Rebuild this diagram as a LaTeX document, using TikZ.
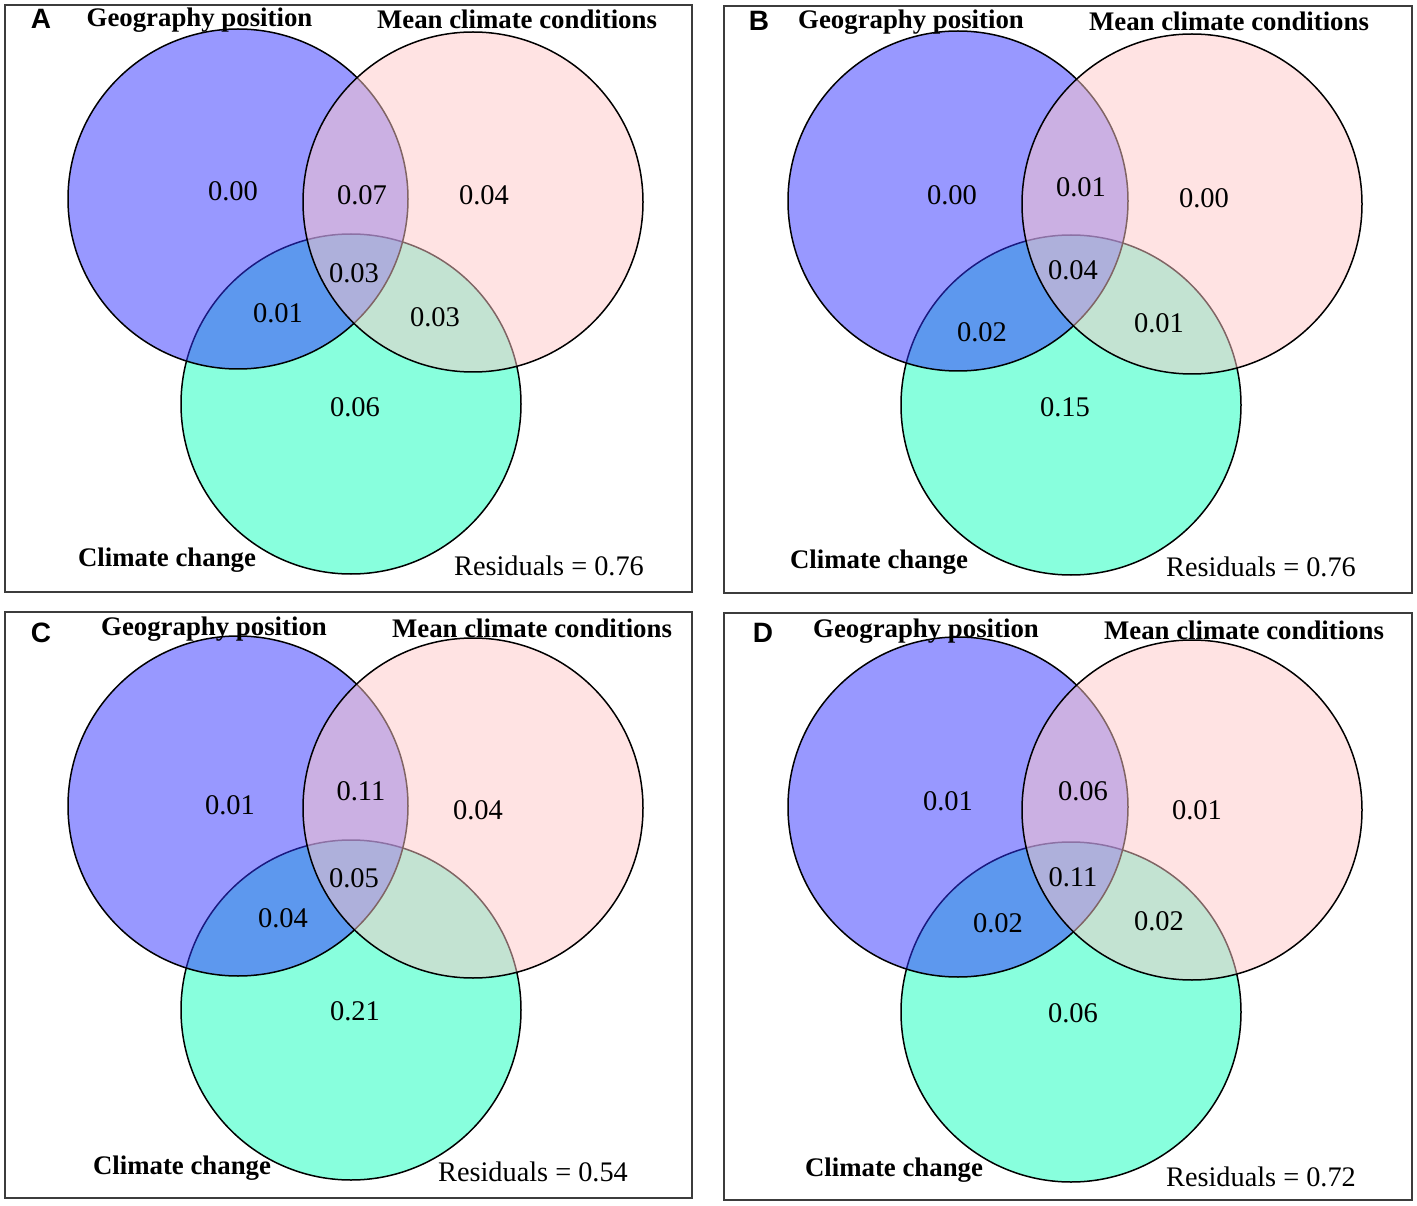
\documentclass[tikz,border=0pt]{standalone}
\usepackage{fontspec}
\setmainfont{Liberation Serif}
\newfontfamily\lettersf{Liberation Sans}
\definecolor{climC}{RGB}{136,255,221}
\definecolor{geoC}{RGB}{51,51,255}
\definecolor{meanC}{RGB}{255,201,201}
\definecolor{frameC}{RGB}{60,60,60}
\tikzset{
  frame/.style={draw=frameC, line width=2pt},
  vc/.style={circle, minimum size=340pt, inner sep=0pt, outer sep=0pt, draw=black, line width=1.5pt},
  ttl/.style={font=\fontsize{26.8}{30}\selectfont\bfseries, inner sep=0pt, anchor=base},
  val/.style={font=\fontsize{28.5}{32}\selectfont, inner sep=0pt},
  resid/.style={font=\fontsize{28.3}{32}\selectfont, inner sep=0pt, anchor=base},
  plabel/.style={font=\lettersf\bfseries\fontsize{28}{32}\selectfont, inner sep=0pt},
}
\newcommand\vennset[4]{%
  \node[vc, fill=climC] (#1c) at (#4) {};
  \node[vc, fill=geoC, fill opacity=0.5] (#1g) at (#2) {};
  \node[vc, fill=meanC, fill opacity=0.5] (#1m) at (#3) {};
}
\begin{document}
\begin{tikzpicture}[x=1pt,y=-1pt]
\useasboundingbox (0,0) rectangle (1417,1206);
\fill[white] (0,0) rectangle (1417,1206);
% frames
\draw[frame] (5,5) rectangle (692,592);
\draw[frame] (724,6) rectangle (1412,593);
\draw[frame] (5,612) rectangle (692,1198);
\draw[frame] (724,613) rectangle (1412,1200);

% ---------- Panel A ----------
\vennset{A}{238,199}{473,202}{351,404}
\node[plabel] (Alab) at (41,19) {A};
\node[ttl] (Ageot) at (199.5,27) {Geography position};
\node[ttl] (Ameant) at (517,29) {Mean climate conditions};
\node[ttl] (Aclimt) at (167,566) {Climate change};
\node[resid] (Ares) at (549,575) {Residuals = 0.76};
\node[val] (Av1) at (233,191) {0.00};
\node[val] (Av2) at (362,195) {0.07};
\node[val] (Av3) at (484,195) {0.04};
\node[val] (Av4) at (354,273) {0.03};
\node[val] (Av5) at (278,313) {0.01};
\node[val] (Av6) at (435,317) {0.03};
\node[val] (Av7) at (355,407) {0.06};

% ---------- Panel B ----------
\vennset{B}{958,201}{1192,204}{1071,405}
\node[plabel] (Blab) at (759,21) {B};
\node[ttl] (Bgeot) at (911,29) {Geography position};
\node[ttl] (Bmeant) at (1229,31) {Mean climate conditions};
\node[ttl] (Bclimt) at (879,568) {Climate change};
\node[resid] (Bres) at (1261,576) {Residuals = 0.76};
\node[val] (Bv1) at (952,195) {0.00};
\node[val] (Bv2) at (1081,187) {0.01};
\node[val] (Bv3) at (1204,198) {0.00};
\node[val] (Bv4) at (1073,270) {0.04};
\node[val] (Bv5) at (982,332) {0.02};
\node[val] (Bv6) at (1159,323) {0.01};
\node[val] (Bv7) at (1065,407) {0.15};

% ---------- Panel C ----------
\vennset{C}{238,806}{473,808}{351,1010}
\node[plabel] (Clab) at (41,633) {C};
\node[ttl] (Cgeot) at (214,635) {Geography position};
\node[ttl] (Cmeant) at (532,637) {Mean climate conditions};
\node[ttl] (Cclimt) at (182,1174) {Climate change};
\node[resid] (Cres) at (533,1181) {Residuals = 0.54};
\node[val] (Cv1) at (230,805) {0.01};
\node[val] (Cv2) at (361,791) {0.11};
\node[val] (Cv3) at (478,810) {0.04};
\node[val] (Cv4) at (354,878) {0.05};
\node[val] (Cv5) at (283,918) {0.04};
\node[val] (Cv7) at (355,1011) {0.21};

% ---------- Panel D ----------
\vennset{D}{958,807}{1192,810}{1071,1012}
\node[plabel] (Dlab) at (763,633) {D};
\node[ttl] (Dgeot) at (926,637) {Geography position};
\node[ttl] (Dmeant) at (1244,639) {Mean climate conditions};
\node[ttl] (Dclimt) at (894,1176) {Climate change};
\node[resid] (Dres) at (1261,1186) {Residuals = 0.72};
\node[val] (Dv1) at (948,801) {0.01};
\node[val] (Dv2) at (1083,791) {0.06};
\node[val] (Dv3) at (1197,810) {0.01};
\node[val] (Dv4) at (1073,877) {0.11};
\node[val] (Dv5) at (998,923) {0.02};
\node[val] (Dv6) at (1159,921) {0.02};
\node[val] (Dv7) at (1073,1013) {0.06};
\end{tikzpicture}
\end{document}
